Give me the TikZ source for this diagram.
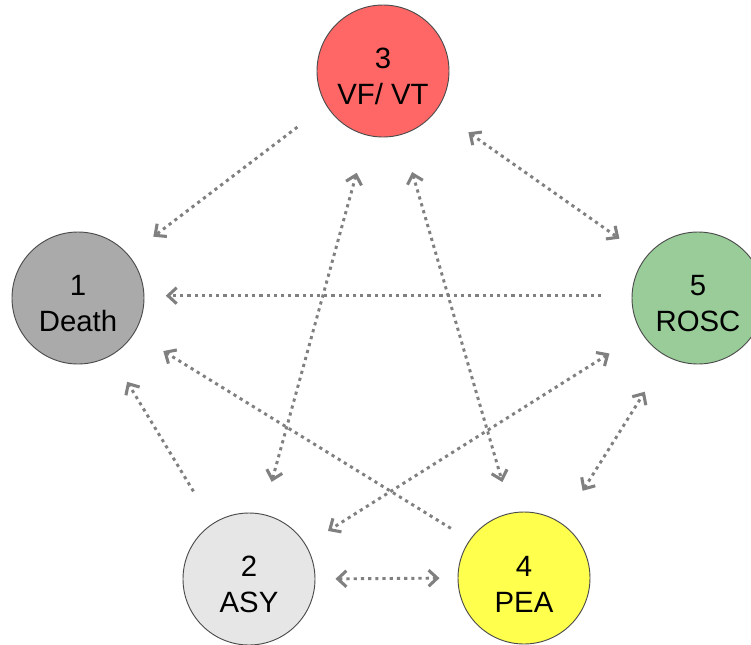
\documentclass[tikz,border=0pt]{standalone}
\usepackage{fontspec}
\setmainfont{Liberation Sans}
\usetikzlibrary{arrows.meta}

\definecolor{deathfill}{RGB}{170,170,170}
\definecolor{asyfill}{RGB}{230,230,230}
\definecolor{vffill}{RGB}{255,102,102}
\definecolor{peafill}{RGB}{255,255,77}
\definecolor{roscfill}{RGB}{153,204,153}
\definecolor{linkgray}{RGB}{128,128,128}

\begin{document}
\begin{tikzpicture}[
    x = 0.75pt, y = -0.75pt,
    >={Straight Barb[length=6.5pt, width=12pt, line width=2.3pt]},
    state/.style = {draw=black!70, circle, line width=0.7pt, minimum size=99pt,
                    inner sep=0pt, align=center, font=\fontsize{22}{27}\selectfont,
                    text height=51pt},
    link/.style = {draw=linkgray, line width=2.2pt, dash pattern=on 2.4pt off 3pt, ->},
    twoway/.style = {link, <->}
  ]
  \useasboundingbox (0,0) rectangle (751,644);
  \clip (0,0) rectangle (751,644);

  % States
  \node[state, fill=deathfill] (death) at (78,298)  {1\\Death};
  \node[state, fill=asyfill]   (asy)   at (249,579) {2\\ASY};
  \node[state, fill=vffill]    (vf)    at (383,71)  {3\\VF/ VT};
  \node[state, fill=peafill]   (pea)   at (524,578) {4\\PEA};
  \node[state, fill=roscfill]  (rosc)  at (698,298) {5\\ROSC};

  % Transitions into death
  \draw[link, shorten <=27pt, shorten >=23pt] (vf.211) -- (death.40);
  \draw[link, shorten <=23pt, shorten >=16pt] (rosc.178) -- (death.2);
  \draw[link, shorten <=16.5pt, shorten >=25.5pt] (pea.145) -- (death.328);
  \draw[link, shorten <=28pt, shorten >=23pt] (asy.123) -- (death.300);

  % Two-way transitions
  \draw[twoway, shorten <=29pt, shorten >=24pt] (vf.324) -- (rosc.142);
  \draw[twoway, shorten <=29pt, shorten >=25pt] (vf.256) -- (asy.78);
  \draw[twoway, shorten <=29pt, shorten >=24pt] (vf.286) -- (pea.101);
  \draw[twoway, shorten <=28.5pt, shorten >=19.5pt] (rosc.212) -- (asy.31);
  \draw[twoway, shorten <=29pt, shorten >=31pt] (pea.55) -- (rosc.242);
  \draw[twoway, shorten <=15pt, shorten >=13.5pt] (asy.0) -- (pea.180);
\end{tikzpicture}
\end{document}
